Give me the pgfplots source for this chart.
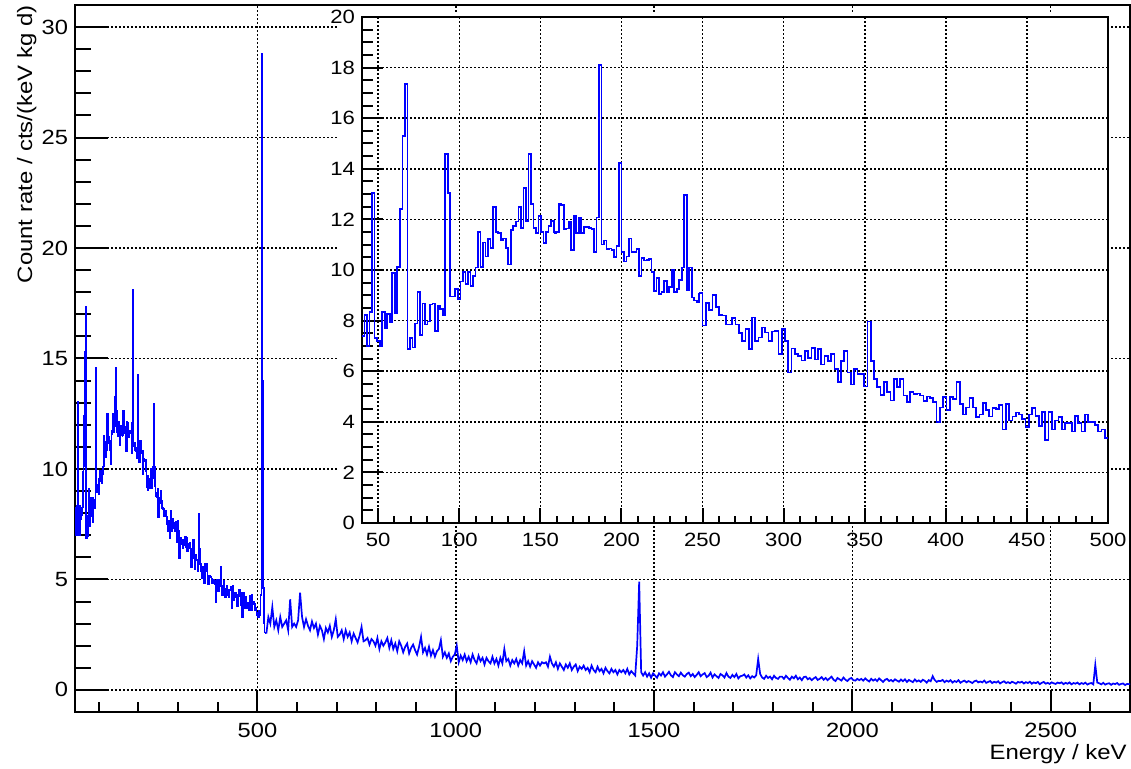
\documentclass[border=0pt]{standalone}
\usepackage{fontspec}
\setmainfont{Liberation Sans}[FakeStretch=1.15]
\usepackage{pgfplots}
\usepackage{pgfplotstable}
\pgfplotsset{compat=1.18}

% spectrum 40-158 keV (bin ~1.555 keV), last row = first value of next part
\pgfplotstableread[row sep=\\]{
v\\
7.39\\ 8.22\\ 7.0\\ 8.33\\ 13.03\\ 7.3\\ 7.19\\ 7.0\\ 8.35\\ 7.72\\
8.26\\ 7.92\\ 9.87\\ 8.29\\ 10.13\\ 12.4\\ 15.3\\ 17.34\\ 6.87\\ 7.3\\
6.94\\ 7.89\\ 9.12\\ 7.43\\ 8.68\\ 7.85\\ 7.96\\ 8.64\\ 8.68\\ 7.59\\
8.58\\ 8.45\\ 8.22\\ 14.58\\ 13.03\\ 8.95\\ 8.95\\ 9.26\\ 8.84\\ 9.54\\
9.92\\ 9.45\\ 9.92\\ 9.37\\ 9.76\\ 10.1\\ 11.51\\ 10.13\\ 11.09\\ 10.53\\
11.23\\ 10.86\\ 12.5\\ 11.51\\ 11.45\\ 11.19\\ 11.25\\ 10.86\\ 10.22\\ 11.58\\
11.74\\ 11.92\\ 12.5\\ 11.67\\ 13.25\\ 11.93\\ 14.58\\ 12.61\\ 11.67\\ 11.47\\
12.13\\ 11.51\\ 11.08\\ 11.51\\ 11.75\\ 11.93\\ 11.47\\
}\segA

% 158-248 keV
\pgfplotstableread[row sep=\\]{
v\\
11.47\\ 11.51\\ 12.61\\ 12.57\\ 11.6\\ 11.64\\ 11.89\\ 10.79\\ 12.15\\ 11.45\\
12.08\\ 11.45\\ 11.71\\ 11.71\\ 11.67\\ 11.62\\ 10.72\\ 12.07\\ 18.1\\ 11.01\\
11.16\\ 10.83\\ 10.85\\ 10.79\\ 10.5\\ 10.96\\ 14.24\\ 10.7\\ 10.33\\ 10.53\\
11.25\\ 10.72\\ 10.72\\ 10.82\\ 9.76\\ 10.46\\ 10.37\\ 10.4\\ 10.43\\ 9.91\\
9.18\\ 9.67\\ 9.04\\ 9.12\\ 9.57\\ 9.12\\ 9.32\\ 10.0\\ 9.12\\ 9.24\\
9.6\\ 10.1\\ 12.96\\ 9.2\\ 10.1\\ 8.91\\ 8.79\\ 8.72\\ 9.1\\
}\segB

% 248-500 keV
\pgfplotstableread[row sep=\\]{
v\\
9.1\\ 7.8\\ 8.7\\ 8.43\\ 9.0\\ 8.55\\ 8.22\\ 8.2\\ 7.85\\ 7.85\\
8.09\\ 7.85\\ 7.5\\ 7.2\\ 7.66\\ 6.87\\ 8.12\\ 7.2\\ 7.33\\ 7.73\\
7.53\\ 7.2\\ 7.57\\ 7.6\\ 6.67\\ 7.66\\ 7.2\\ 5.95\\ 6.9\\ 6.67\\
6.6\\ 6.42\\ 6.79\\ 6.53\\ 6.92\\ 6.46\\ 6.87\\ 6.26\\ 6.6\\ 6.4\\
6.67\\ 6.09\\ 5.56\\ 6.4\\ 6.79\\ 5.95\\ 5.47\\ 6.09\\ 5.89\\ 5.89\\
5.39\\ 7.96\\ 6.4\\ 5.7\\ 5.37\\ 5.06\\ 5.56\\ 5.17\\ 4.84\\ 5.7\\
5.37\\ 5.7\\ 5.04\\ 4.77\\ 5.17\\ 5.1\\ 5.12\\ 5.04\\ 4.82\\ 5.0\\
4.95\\ 4.77\\ 3.98\\ 4.57\\ 4.97\\ 4.47\\ 4.97\\ 4.9\\ 5.56\\ 4.69\\
4.29\\ 4.57\\ 4.95\\ 4.57\\ 4.2\\ 4.29\\ 4.73\\ 4.47\\ 4.21\\ 4.54\\
4.5\\ 4.67\\ 3.7\\ 4.69\\ 4.05\\ 4.21\\ 4.37\\ 4.29\\ 4.12\\ 3.79\\
4.29\\ 4.54\\ 4.24\\ 3.83\\ 4.4\\ 3.28\\ 4.4\\ 3.7\\ 4.05\\ 4.2\\
3.7\\ 3.95\\ 3.95\\ 3.62\\ 4.24\\ 3.95\\ 3.62\\ 4.29\\ 3.98\\ 3.98\\
3.88\\ 3.62\\ 3.7\\ 3.37\\ 3.37\\
}\segC

% 520-2700 keV, 5 keV bins
\pgfplotstableread[row sep=\\]{
v\\
2.55\\ 3.3\\ 3.0\\ 3.75\\ 2.85\\ 3.15\\ 2.7\\ 3.3\\ 2.85\\ 3.0\\ 3.15\\ 2.7\\ 4.1\\ 2.85\\ 3.0\\ 2.85\\ 3.15\\ 4.4\\ 3.3\\ 2.85\\
3.2\\ 2.9\\ 2.7\\ 3.1\\ 2.8\\ 3.0\\ 2.5\\ 2.9\\ 2.7\\ 2.3\\ 2.8\\ 2.6\\ 2.9\\ 2.4\\ 2.7\\ 3.2\\ 2.4\\ 2.5\\ 2.7\\ 2.3\\
2.7\\ 2.4\\ 2.6\\ 2.2\\ 2.55\\ 2.35\\ 2.15\\ 2.45\\ 2.85\\ 2.2\\ 2.25\\ 2.35\\ 2.05\\ 2.3\\ 2.2\\ 2.0\\ 2.35\\ 1.85\\ 2.2\\ 2.0\\
2.15\\ 2.35\\ 1.9\\ 2.25\\ 1.85\\ 2.1\\ 1.75\\ 2.2\\ 2.0\\ 1.7\\ 1.95\\ 2.1\\ 1.65\\ 1.9\\ 2.05\\ 1.8\\ 1.6\\ 1.95\\ 2.4\\ 1.7\\
1.9\\ 1.6\\ 1.95\\ 1.55\\ 1.8\\ 1.5\\ 1.75\\ 1.85\\ 2.25\\ 1.5\\ 1.7\\ 1.45\\ 1.65\\ 1.3\\ 1.5\\ 1.6\\ 2.0\\ 1.25\\ 1.55\\ 1.35\\
1.6\\ 1.3\\ 1.5\\ 1.25\\ 1.6\\ 1.35\\ 1.2\\ 1.55\\ 1.3\\ 1.45\\ 1.15\\ 1.45\\ 1.3\\ 1.2\\ 1.5\\ 1.2\\ 1.4\\ 1.1\\ 1.45\\ 1.2\\
1.85\\ 1.3\\ 1.4\\ 1.1\\ 1.35\\ 1.2\\ 1.4\\ 1.1\\ 1.35\\ 1.2\\ 1.75\\ 1.1\\ 1.3\\ 1.05\\ 1.3\\ 1.15\\ 1.0\\ 1.25\\ 1.1\\ 1.25\\
1.2\\ 1.25\\ 1.05\\ 1.5\\ 1.2\\ 1.05\\ 1.25\\ 0.95\\ 1.2\\ 1.05\\ 0.9\\ 1.15\\ 1.0\\ 1.2\\ 0.9\\ 1.05\\ 1.15\\ 0.85\\ 1.05\\ 0.95\\
1.1\\ 0.9\\ 1.0\\ 0.8\\ 1.1\\ 0.9\\ 0.8\\ 1.05\\ 0.85\\ 0.95\\ 0.75\\ 1.0\\ 0.85\\ 0.75\\ 0.95\\ 0.8\\ 0.9\\ 0.7\\ 0.9\\ 0.8\\
0.9\\ 0.75\\ 0.95\\ 0.7\\ 0.85\\ 0.75\\ 0.65\\ 2.0\\ 4.9\\ 0.8\\ 0.65\\ 0.8\\ 0.6\\ 0.75\\ 0.55\\ 0.75\\ 0.65\\ 0.55\\ 0.75\\ 0.65\\
0.8\\ 0.6\\ 0.7\\ 0.82\\ 0.66\\ 0.58\\ 0.8\\ 0.7\\ 0.62\\ 0.78\\ 0.66\\ 0.6\\ 0.72\\ 0.78\\ 0.62\\ 0.72\\ 0.58\\ 0.68\\ 0.8\\ 0.62\\
0.7\\ 0.76\\ 0.58\\ 0.64\\ 0.78\\ 0.56\\ 0.7\\ 0.62\\ 0.54\\ 0.72\\ 0.66\\ 0.56\\ 0.76\\ 0.6\\ 0.54\\ 0.68\\ 0.58\\ 0.72\\ 0.52\\ 0.62\\
0.64\\ 0.7\\ 0.56\\ 0.66\\ 0.52\\ 0.62\\ 0.56\\ 0.66\\ 1.4\\ 0.72\\ 0.56\\ 0.5\\ 0.64\\ 0.54\\ 0.6\\ 0.48\\ 0.64\\ 0.54\\ 0.5\\ 0.6\\
0.6\\ 0.5\\ 0.64\\ 0.54\\ 0.46\\ 0.6\\ 0.52\\ 0.64\\ 0.48\\ 0.56\\ 0.44\\ 0.58\\ 0.6\\ 0.48\\ 0.54\\ 0.44\\ 0.52\\ 0.58\\ 0.45\\ 0.5\\
0.58\\ 0.46\\ 0.54\\ 0.44\\ 0.52\\ 0.6\\ 0.46\\ 0.4\\ 0.54\\ 0.48\\ 0.42\\ 0.56\\ 0.46\\ 0.4\\ 0.5\\ 0.54\\ 0.44\\ 0.42\\ 0.5\\ 0.44\\
0.5\\ 0.42\\ 0.52\\ 0.44\\ 0.38\\ 0.5\\ 0.42\\ 0.48\\ 0.4\\ 0.52\\ 0.44\\ 0.36\\ 0.46\\ 0.5\\ 0.4\\ 0.45\\ 0.38\\ 0.48\\ 0.42\\ 0.37\\
0.47\\ 0.39\\ 0.48\\ 0.36\\ 0.45\\ 0.4\\ 0.35\\ 0.47\\ 0.38\\ 0.43\\ 0.36\\ 0.46\\ 0.41\\ 0.33\\ 0.44\\ 0.39\\ 0.62\\ 0.45\\ 0.36\\ 0.41\\
0.4\\ 0.45\\ 0.35\\ 0.42\\ 0.37\\ 0.44\\ 0.33\\ 0.4\\ 0.36\\ 0.44\\ 0.32\\ 0.38\\ 0.42\\ 0.34\\ 0.4\\ 0.36\\ 0.31\\ 0.39\\ 0.42\\ 0.34\\
0.38\\ 0.34\\ 0.42\\ 0.32\\ 0.36\\ 0.4\\ 0.31\\ 0.37\\ 0.33\\ 0.39\\ 0.29\\ 0.35\\ 0.39\\ 0.31\\ 0.35\\ 0.3\\ 0.37\\ 0.33\\ 0.28\\ 0.36\\
0.33\\ 0.37\\ 0.29\\ 0.35\\ 0.31\\ 0.37\\ 0.28\\ 0.34\\ 0.3\\ 0.36\\ 0.26\\ 0.32\\ 0.36\\ 0.28\\ 0.32\\ 0.27\\ 0.34\\ 0.3\\ 0.27\\ 0.33\\
0.3\\ 0.34\\ 0.26\\ 0.32\\ 0.28\\ 0.34\\ 0.25\\ 0.31\\ 0.28\\ 0.33\\ 0.25\\ 0.31\\ 0.27\\ 0.33\\ 0.24\\ 0.29\\ 0.31\\ 0.25\\ 1.13\\ 0.33\\
0.3\\ 0.25\\ 0.32\\ 0.24\\ 0.28\\ 0.3\\ 0.23\\ 0.29\\ 0.26\\ 0.31\\ 0.23\\ 0.27\\ 0.29\\ 0.22\\ 0.27\\ 0.26\\ 0.26\\
}\segD

\pgfplotsset{
  rootgrid/.style={black, line width=0.8pt, dash pattern=on 0.8pt off 1.2pt},
  rootbase/.style={
    scale only axis, anchor=south west,
    axis line style={line width=1pt},
    tick align=inside, tick pos=left,
    tick style={black, line width=1pt},
    major grid style={rootgrid},
    /pgf/number format/assume math mode=true,
    /pgf/number format/1000 sep={},
    scaled ticks=false,
  },
  histline/.style={const plot, color=blue, line width=0.85pt, no markers},
}

\begin{document}
\begin{tikzpicture}
\path[use as bounding box] (0,0) rectangle (565.5pt,384.5pt);

% main frame: x ticks and vertical grid
\begin{axis}[rootbase, at={(37.5pt,28.5pt)}, width=527.5pt, height=353.5pt,
  xmin=40, xmax=2700, ymin=-1, ymax=31,
  xtick={500,1000,...,2500}, minor xtick={100,200,...,2700}, ytick=\empty,
  xmajorgrids,
  major tick length=11pt, minor tick length=5pt,
  tick label style={font=\fontsize{10.3}{12}\selectfont},
  xticklabel style={yshift=-2pt},
]
\end{axis}

% main frame: y ticks, horizontal grid and spectrum
\begin{axis}[rootbase, at={(37.5pt,28.5pt)}, width=527.5pt, height=353.5pt,
  xmin=40, xmax=2700, ymin=-1, ymax=31,
  xtick=\empty, ytick={0,5,...,30}, minor ytick={-1,0,...,31},
  ymajorgrids,
  major tick length=16.5pt, minor tick length=8pt,
  tick label style={font=\fontsize{10.3}{12}\selectfont},
]
  \addplot[histline] table[x expr={40+1.555*\coordindex}, y=v] {\segA};
  \addplot[histline] table[x expr={158.2+1.548*\coordindex}, y=v] {\segB};
  \addplot[histline] table[x expr={248+2.032*\coordindex}, y=v] {\segC};
  \addplot[histline] coordinates {(500,3.5)(502,3.3)(504,3.6)(506,3.4)(508,4.3)
    (510,28.8)(512,14.0)(514,4.6)(516,3.0)(518,2.6)(520,2.55)};
  \addplot[color=blue, line width=0.85pt, no markers, sharp plot]
    table[x expr={522.5+5*\coordindex}, y=v] {\segD};
\end{axis}

\node[rotate=90, anchor=base east, inner sep=0pt, font=\fontsize{10.4}{12}\selectfont]
  at (16pt,382pt) {Count rate / cts/(keV kg d)};
\node[anchor=base east, inner sep=0pt, font=\fontsize{10.4}{12}\selectfont]
  at (563.5pt,4.9pt) {Energy / keV};

% inset pad
\fill[white] (169.5pt,123pt) rectangle (554pt,377.5pt);

\begin{axis}[rootbase, at={(181pt,123pt)}, width=373pt, height=253pt,
  xmin=40, xmax=500, ymin=0, ymax=20,
  xtick={50,100,...,500}, minor xtick={40,50,...,500}, ytick=\empty,
  xmajorgrids,
  major tick length=7.5pt, minor tick length=3.5pt,
  tick label style={font=\fontsize{9.6}{11}\selectfont},
  xticklabel style={yshift=-1.5pt},
]
\end{axis}

\begin{axis}[rootbase, at={(181pt,123pt)}, width=373pt, height=253pt,
  xmin=40, xmax=500, ymin=0, ymax=20,
  xtick=\empty, ytick={0,2,...,20}, minor ytick={0,0.5,...,20},
  ymajorgrids,
  major tick length=10.5pt, minor tick length=5.5pt,
  tick label style={font=\fontsize{9.6}{11}\selectfont},
]
  \addplot[histline] table[x expr={40+1.555*\coordindex}, y=v] {\segA};
  \addplot[histline] table[x expr={158.2+1.548*\coordindex}, y=v] {\segB};
  \addplot[histline] table[x expr={248+2.032*\coordindex}, y=v] {\segC};
\end{axis}
\end{tikzpicture}
\end{document}
